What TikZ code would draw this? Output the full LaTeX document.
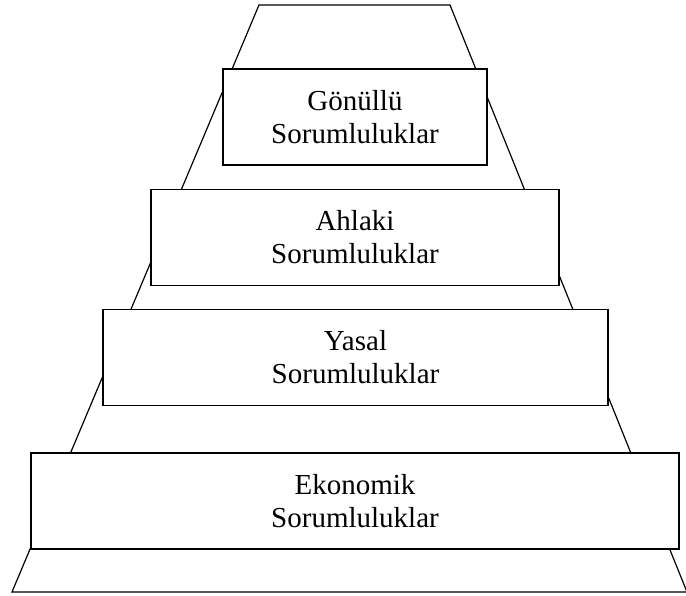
\documentclass[tikz,border=0pt]{standalone}
\usepackage{fontspec}
\setmainfont{Liberation Serif}
\usepackage{xcolor}
\definecolor{linecolor}{RGB}{0,0,0}
\definecolor{boxcolor}{RGB}{255,255,255}

\begin{document}
\begin{tikzpicture}[x=1pt, y=-1pt,
  % Node styles
  levelbox/.style={
    rectangle,
    draw=linecolor,
    line width=1.2pt,
    fill=boxcolor,
    align=center,
    minimum height=96pt,
    font=\fontsize{29}{33}\selectfont,
    inner sep=0pt
  },
  pyramid/.style={
    draw=linecolor,
    line width=1.2pt,
    line join=miter
  }
]
\useasboundingbox (0,0) rectangle (686,596);

% ===== PYRAMID OUTLINE =====
\coordinate (topleft) at (259,5);
\coordinate (topright) at (450,5);
\coordinate (bottomleft) at (12,592);
\coordinate (bottomright) at (687,592);
\draw[pyramid] (topleft) -- (topright) -- (bottomright) -- (bottomleft) -- cycle;

% ===== LEVELS =====
\node[levelbox, minimum width=264pt] (gonullu) at (355,117) {Gönüllü\\Sorumluluklar};
\node[levelbox, minimum width=408pt] (ahlaki) at (355,237.5) {Ahlaki\\Sorumluluklar};
\node[levelbox, minimum width=505pt] (yasal) at (355.5,357.5) {Yasal\\Sorumluluklar};
\node[levelbox, minimum width=648pt] (ekonomik) at (355,501) {Ekonomik\\Sorumluluklar};

\end{tikzpicture}
\end{document}
